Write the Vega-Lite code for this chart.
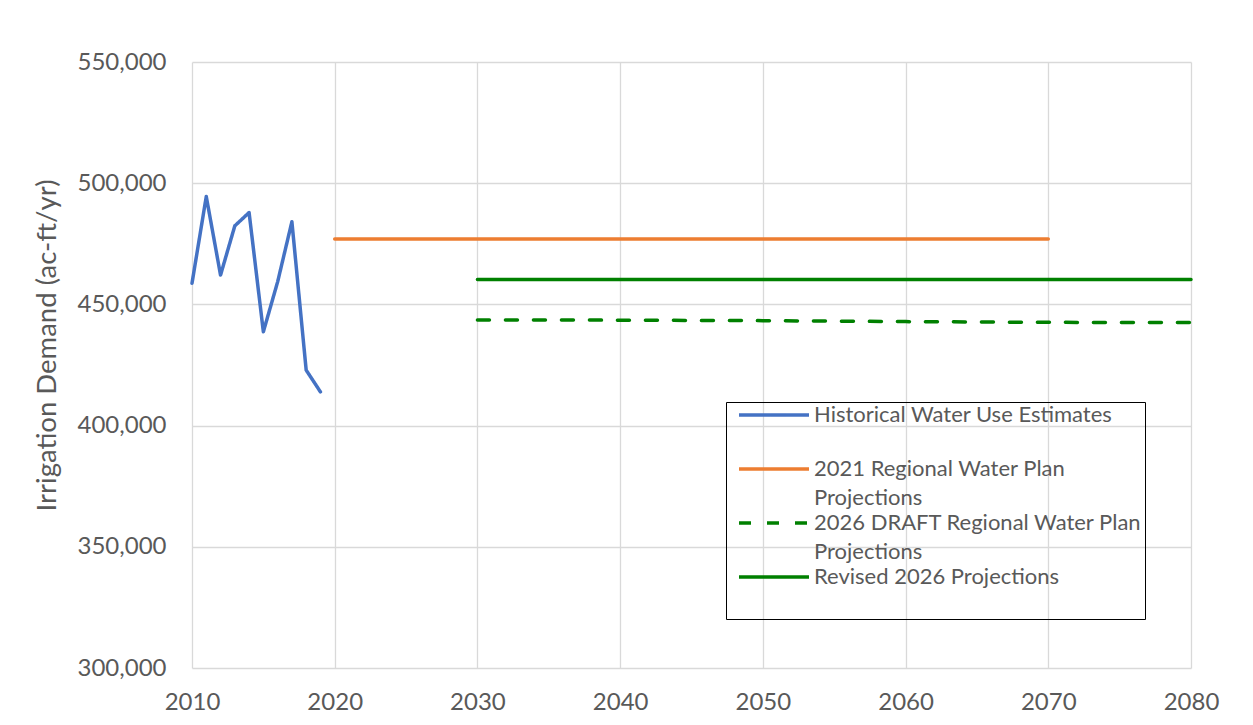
{
  "$schema": "https://vega.github.io/schema/vega-lite/v6.json",
  "width": 999,
  "height": 606,
  "autosize": {"type": "none"},
  "padding": {"left": 192, "top": 62, "right": 62, "bottom": 57},
  "background": "white",
  "config": {
    "font": "Lato",
    "view": {"stroke": null},
    "style": {"guide-label": {"lineHeight": 29}},
    "axis": {"gridColor": "#D9D9D9", "gridWidth": 1.3, "domain": false, "ticks": false, "labelColor": "#595959", "titleColor": "#595959", "labelFontSize": 24, "titleFontSize": 27.5, "labelFontWeight": "normal", "titleFontWeight": "normal", "labelFlush": false}
  },
  "data": {"values": [
    {"series": "Historical Water Use Estimates", "year": 2010, "value": 458700},
    {"series": "Historical Water Use Estimates", "year": 2011, "value": 494500},
    {"series": "Historical Water Use Estimates", "year": 2012, "value": 462100},
    {"series": "Historical Water Use Estimates", "year": 2013, "value": 482400},
    {"series": "Historical Water Use Estimates", "year": 2014, "value": 487900},
    {"series": "Historical Water Use Estimates", "year": 2015, "value": 438700},
    {"series": "Historical Water Use Estimates", "year": 2016, "value": 459300},
    {"series": "Historical Water Use Estimates", "year": 2017, "value": 484100},
    {"series": "Historical Water Use Estimates", "year": 2018, "value": 422900},
    {"series": "Historical Water Use Estimates", "year": 2019, "value": 413900},
    {"series": "2021 Regional Water Plan Projections", "year": 2020, "value": 477000},
    {"series": "2021 Regional Water Plan Projections", "year": 2030, "value": 477000},
    {"series": "2021 Regional Water Plan Projections", "year": 2040, "value": 477000},
    {"series": "2021 Regional Water Plan Projections", "year": 2050, "value": 477000},
    {"series": "2021 Regional Water Plan Projections", "year": 2060, "value": 477000},
    {"series": "2021 Regional Water Plan Projections", "year": 2070, "value": 477000},
    {"series": "2026 DRAFT Regional Water Plan Projections", "year": 2030, "value": 443600},
    {"series": "2026 DRAFT Regional Water Plan Projections", "year": 2040, "value": 443500},
    {"series": "2026 DRAFT Regional Water Plan Projections", "year": 2050, "value": 443300},
    {"series": "2026 DRAFT Regional Water Plan Projections", "year": 2060, "value": 442900},
    {"series": "2026 DRAFT Regional Water Plan Projections", "year": 2070, "value": 442600},
    {"series": "2026 DRAFT Regional Water Plan Projections", "year": 2080, "value": 442500},
    {"series": "Revised 2026 Projections", "year": 2030, "value": 460300},
    {"series": "Revised 2026 Projections", "year": 2040, "value": 460300},
    {"series": "Revised 2026 Projections", "year": 2050, "value": 460300},
    {"series": "Revised 2026 Projections", "year": 2060, "value": 460300},
    {"series": "Revised 2026 Projections", "year": 2070, "value": 460300},
    {"series": "Revised 2026 Projections", "year": 2080, "value": 460300}
  ]},
  "mark": {"type": "line", "strokeWidth": 3.5, "strokeCap": "round", "strokeJoin": "round"},
  "encoding": {
    "x": {"field": "year", "type": "quantitative", "scale": {"domain": [2010, 2080], "nice": false, "zero": false},
      "axis": {"title": null, "values": [2010, 2020, 2030, 2040, 2050, 2060, 2070, 2080], "format": "d", "labelPadding": 22}},
    "y": {"field": "value", "type": "quantitative", "scale": {"domain": [300000, 550000], "nice": false, "zero": false},
      "axis": {"title": "Irrigation Demand (ac-ft/yr)", "values": [300000, 350000, 400000, 450000, 500000, 550000], "format": ",d", "labelPadding": 26, "titlePadding": 16, "titleY": 283}},
    "color": {"field": "series", "type": "nominal",
      "scale": {"domain": ["Historical Water Use Estimates", "2021 Regional Water Plan Projections", "2026 DRAFT Regional Water Plan Projections", "Revised 2026 Projections"], "range": ["#4472C4", "#ED7D31", "#008000", "#008000"]},
      "legend": {"orient": "none", "legendX": 534, "legendY": 340, "title": null, "strokeColor": "#000000", "padding": 2, "symbolType": "M0,0H14", "symbolSize": 100, "symbolOffset": 0, "labelOffset": 64, "symbolStrokeWidth": 3.5, "labelFontSize": 22, "labelColor": "#595959", "labelLimit": 500, "rowPadding": 3,
        "labelExpr": "datum.label == '2021 Regional Water Plan Projections' ? ['2021 Regional Water Plan', 'Projections'] : datum.label == '2026 DRAFT Regional Water Plan Projections' ? ['2026 DRAFT Regional Water Plan', 'Projections'] : [datum.label, ' ']"}},
    "strokeDash": {"field": "series", "type": "nominal",
      "scale": {"domain": ["Historical Water Use Estimates", "2021 Regional Water Plan Projections", "2026 DRAFT Regional Water Plan Projections", "Revised 2026 Projections"], "range": [[1, 0], [1, 0], [12, 16], [1, 0]]},
      "legend": {"orient": "none", "legendX": 534, "legendY": 340, "title": null, "strokeColor": "#000000", "padding": 2, "symbolType": "M0,0H14", "symbolSize": 100, "symbolOffset": 0, "labelOffset": 64, "symbolStrokeWidth": 3.5, "labelFontSize": 22, "labelColor": "#595959", "labelLimit": 500, "rowPadding": 3,
        "labelExpr": "datum.label == '2021 Regional Water Plan Projections' ? ['2021 Regional Water Plan', 'Projections'] : datum.label == '2026 DRAFT Regional Water Plan Projections' ? ['2026 DRAFT Regional Water Plan', 'Projections'] : [datum.label, ' ']"}}
  }
}
